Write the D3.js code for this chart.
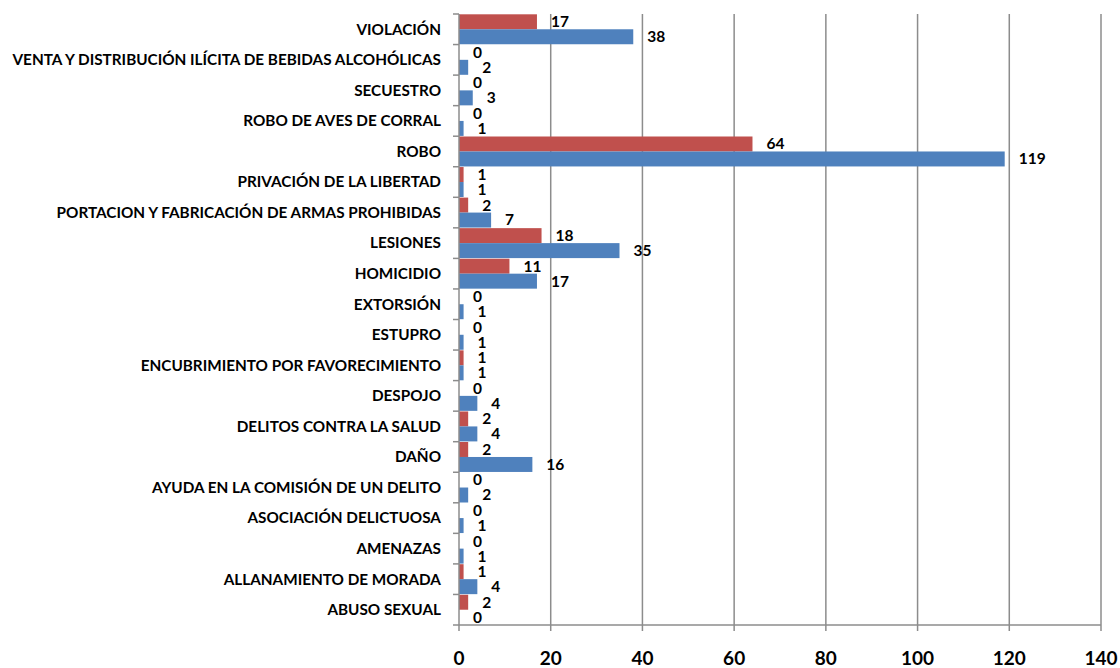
<!DOCTYPE html>
<html><head><meta charset="utf-8">
<script src="https://cdn.jsdelivr.net/npm/d3@7"></script>
<style>body{margin:0;background:#fff}svg{display:block}</style>
</head><body><svg id="c" width="1120" height="668"></svg>
<script>
const categories = ["VIOLACIÓN","VENTA Y DISTRIBUCIÓN ILÍCITA DE BEBIDAS ALCOHÓLICAS","SECUESTRO","ROBO DE AVES DE CORRAL","ROBO","PRIVACIÓN DE LA LIBERTAD","PORTACION Y FABRICACIÓN DE ARMAS PROHIBIDAS","LESIONES","HOMICIDIO","EXTORSIÓN","ESTUPRO","ENCUBRIMIENTO POR FAVORECIMIENTO","DESPOJO","DELITOS CONTRA LA SALUD","DAÑO","AYUDA EN LA COMISIÓN DE UN DELITO","ASOCIACIÓN DELICTUOSA","AMENAZAS","ALLANAMIENTO DE MORADA","ABUSO SEXUAL"];
const seriesRed = [17,0,0,0,64,1,2,18,11,0,0,1,0,2,2,0,0,0,1,2];
const seriesBlue = [38,2,3,1,119,1,7,35,17,1,1,1,4,4,16,2,1,1,4,0];
const xTicks = [0,20,40,60,80,100,120,140];

const svg = d3.select("#c");
const m = {left:459, right:1101, top:14, bottom:625};
const x = d3.scaleLinear().domain([0,140]).range([m.left, m.right]);
const y = d3.scaleBand().domain(categories).range([m.top, m.bottom]).paddingInner(0).paddingOuter(0);
const inner = d3.scaleBand().domain(["r","b"]).range([0, y.bandwidth()]).paddingInner(0).paddingOuter(0.02);
const font = "Lato, 'Open Sans', sans-serif";

// gridlines
svg.append("g").selectAll("line").data(xTicks.slice(1)).join("line")
  .attr("x1", d=>x(d)).attr("x2", d=>x(d)).attr("y1", m.top).attr("y2", m.bottom)
  .attr("stroke", "#8c8c8c").attr("stroke-width", 1.5);

// bars
const series = [{k:"r", v:seriesRed, c:"#C0504D"},{k:"b", v:seriesBlue, c:"#4F81BD"}];
series.forEach(s=>{
  svg.append("g").selectAll("rect").data(categories).join("rect")
    .attr("x", x(0)).attr("y", (d)=>y(d)+inner(s.k))
    .attr("width", (d,i)=>x(s.v[i])-x(0)).attr("height", inner.bandwidth())
    .attr("fill", s.c);
  svg.append("g").selectAll("text").data(categories).join("text")
    .attr("x", (d,i)=>x(s.v[i])+14).attr("y", d=>y(d)+inner(s.k)+inner.bandwidth()/2)
    .attr("dy","0.35em").attr("font-family", font).attr("font-weight","bold")
    .attr("font-size", 15.5).attr("fill","#000")
    .text((d,i)=>s.v[i]);
});

// y axis
const yAxis = svg.append("g").attr("transform", `translate(${m.left},0)`);
yAxis.append("line").attr("x1",0).attr("x2",0).attr("y1",m.top).attr("y2",m.bottom).attr("stroke","#8c8c8c").attr("stroke-width",1.5);
yAxis.selectAll("line.t").data(d3.range(categories.length+1)).join("line").attr("class","t")
  .attr("x1",-6).attr("x2",0).attr("y1",i=>m.top+i*y.step()).attr("y2",i=>m.top+i*y.step())
  .attr("stroke","#8c8c8c").attr("stroke-width",1.5);
yAxis.selectAll("text").data(categories).join("text")
  .attr("x",-18).attr("y",d=>y(d)+y.bandwidth()/2).attr("dy","0.35em")
  .attr("text-anchor","end").attr("font-family",font).attr("font-weight","bold")
  .attr("font-size",15.3).attr("fill","#000").text(d=>d);

// x axis
const xAxis = svg.append("g").attr("transform", `translate(0,${m.bottom})`);
xAxis.append("line").attr("x1",m.left).attr("x2",m.right).attr("stroke","#8c8c8c").attr("stroke-width",1.5);
xAxis.selectAll("line.t").data(xTicks).join("line").attr("class","t")
  .attr("x1",d=>x(d)).attr("x2",d=>x(d)).attr("y1",0).attr("y2",6)
  .attr("stroke","#8c8c8c").attr("stroke-width",1.5);
xAxis.selectAll("text").data(xTicks).join("text")
  .attr("x",d=>x(d)).attr("y",33).attr("dy","0.35em").attr("text-anchor","middle")
  .attr("font-family",font).attr("font-weight","bold").attr("font-size",19).attr("fill","#000").text(d=>d);
</script></body></html>
